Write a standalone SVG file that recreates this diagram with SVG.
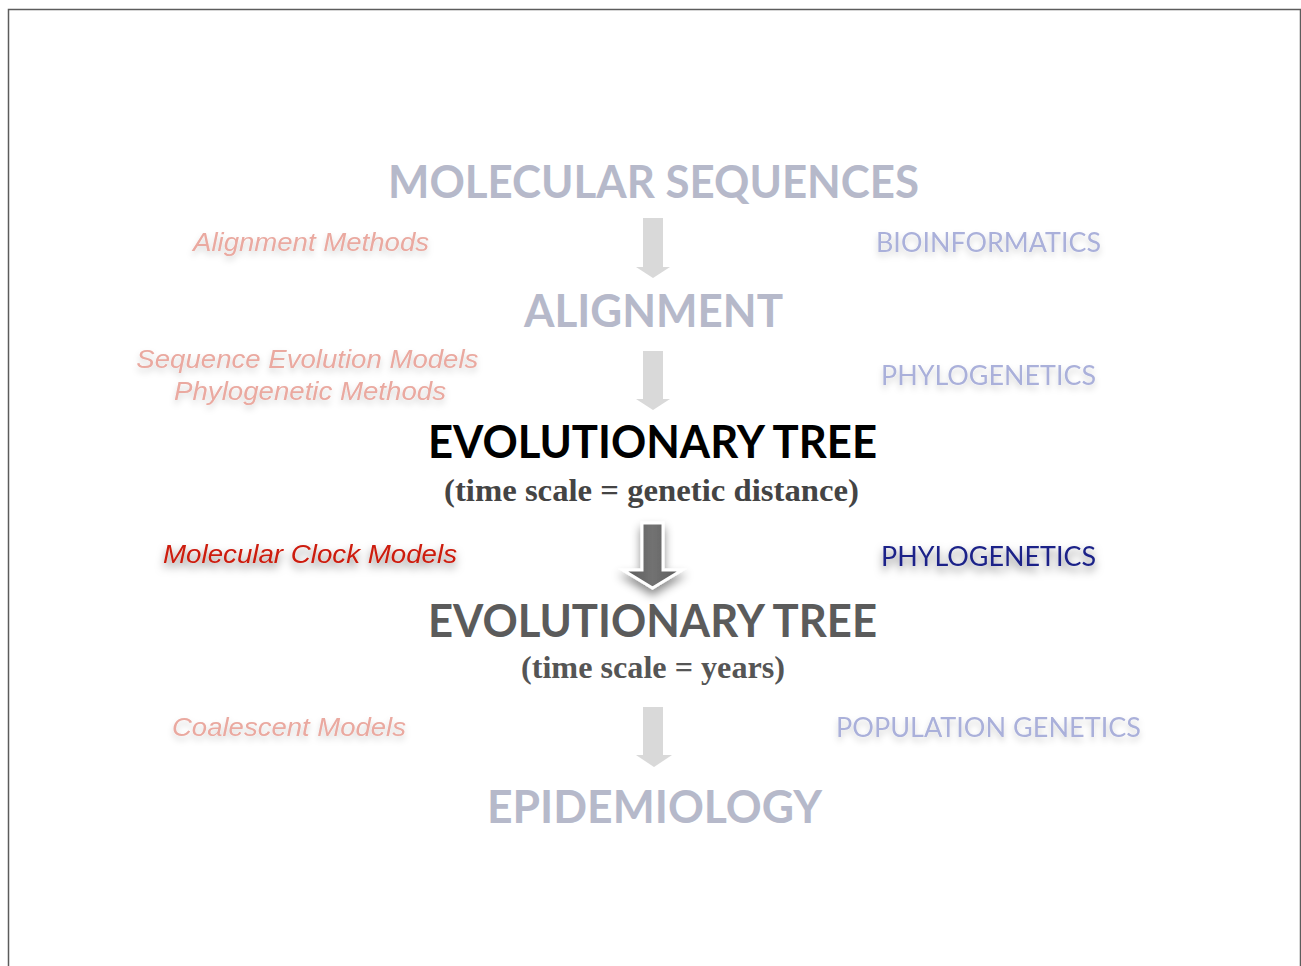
<svg xmlns="http://www.w3.org/2000/svg" width="1301" height="966" viewBox="0 0 1301 966">
<defs>
<style>
.h{font-family:Lato,"Open Sans","DejaVu Sans",sans-serif;font-weight:700;font-size:46px;text-anchor:middle}
.sub{font-family:"Liberation Serif","DejaVu Serif",serif;font-weight:700;font-size:31px;text-anchor:middle}
.l{font-family:"Liberation Sans",Arial,sans-serif;font-style:italic;font-size:26px;text-anchor:middle;fill:#eaa9a0}
.r{font-family:Lato,"Open Sans",sans-serif;font-size:26px;text-anchor:middle;fill:#aab0da}
.faint{fill:#b6b9ca}
.arr{fill:#d9d9d9}
</style>
<filter id="sh" x="-20%" y="-50%" width="140%" height="220%">
<feDropShadow dx="0" dy="4" stdDeviation="3" flood-color="#000" flood-opacity="0.18"/>
</filter>
<filter id="sh2" x="-20%" y="-50%" width="140%" height="220%">
<feDropShadow dx="0" dy="5" stdDeviation="4" flood-color="#000" flood-opacity="0.5"/>
</filter>
<filter id="ash" x="-60%" y="-30%" width="220%" height="170%">
<feDropShadow dx="0" dy="6" stdDeviation="5" flood-color="#000" flood-opacity="0.45"/>
</filter>
<linearGradient id="dg" x1="0" y1="0" x2="1" y2="0">
<stop offset="0" stop-color="#5a5a5a"/>
<stop offset="0.5" stop-color="#727272"/>
<stop offset="1" stop-color="#5a5a5a"/>
</linearGradient>
</defs>
<rect x="0" y="0" width="1301" height="966" fill="#fff"/>
<path d="M8.5 970 V9.5 H1300.5 V970" fill="none" stroke="#5c5c5c" stroke-width="1.5"/>

<g id="n-molecular-sequences"><text class="h faint" x="653.5" y="198" textLength="531" lengthAdjust="spacingAndGlyphs">MOLECULAR SEQUENCES</text></g>
<g id="n-alignment"><text class="h faint" x="653.5" y="327" textLength="259" lengthAdjust="spacingAndGlyphs">ALIGNMENT</text></g>
<g id="n-tree-genetic">
<text class="h" x="652.5" y="458" fill="#000" textLength="449" lengthAdjust="spacingAndGlyphs">EVOLUTIONARY TREE</text>
<text class="sub" x="651.5" y="501" fill="#444" textLength="415" lengthAdjust="spacingAndGlyphs">(time scale = genetic distance)</text>
</g>
<g id="n-tree-years">
<text class="h" x="652.5" y="637" fill="#5b5b5b" textLength="449" lengthAdjust="spacingAndGlyphs">EVOLUTIONARY TREE</text>
<text class="sub" x="653" y="678" fill="#555" textLength="264" lengthAdjust="spacingAndGlyphs">(time scale = years)</text>
</g>
<g id="n-epidemiology"><text class="h faint" x="654.5" y="823" textLength="335" lengthAdjust="spacingAndGlyphs">EPIDEMIOLOGY</text></g>

<g id="n-alignment-methods"><text class="l" x="311" y="251" filter="url(#sh)" textLength="236" lengthAdjust="spacingAndGlyphs">Alignment Methods</text></g>
<g id="n-seq-models"><text class="l" filter="url(#sh)">
<tspan x="311" y="368" textLength="342" lengthAdjust="spacingAndGlyphs">Sequence Evolution Models</tspan>
<tspan x="310" y="400" textLength="272" lengthAdjust="spacingAndGlyphs">Phylogenetic Methods</tspan>
</text></g>
<g id="n-clock-models"><text class="l" x="310" y="563" style="fill:#cc1a0a" filter="url(#sh2)" textLength="294" lengthAdjust="spacingAndGlyphs">Molecular Clock Models</text></g>
<g id="n-coalescent"><text class="l" x="289" y="736" filter="url(#sh)" textLength="234" lengthAdjust="spacingAndGlyphs">Coalescent Models</text></g>

<g id="n-bioinformatics"><text class="r" x="988.5" y="252" filter="url(#sh)" textLength="225" lengthAdjust="spacingAndGlyphs">BIOINFORMATICS</text></g>
<g id="n-phylo1"><text class="r" x="988.5" y="385" filter="url(#sh)" textLength="215" lengthAdjust="spacingAndGlyphs">PHYLOGENETICS</text></g>
<g id="n-phylo2"><text class="r" x="988.5" y="566" style="fill:#1c2488" filter="url(#sh2)" textLength="215" lengthAdjust="spacingAndGlyphs">PHYLOGENETICS</text></g>
<g id="n-popgen"><text class="r" x="988.5" y="737" filter="url(#sh)" textLength="305" lengthAdjust="spacingAndGlyphs">POPULATION GENETICS</text></g>

<g id="connectors">
<path class="arr" d="M643 218 H663 V267 H670 L653 278 L636 267 H643 Z"/>
<path class="arr" d="M643 351 H663 V399 H670 L653 410 L636 399 H643 Z"/>
<path d="M642 523 H663 V570 H682 L652.5 588 L623 570 H642 Z" fill="url(#dg)" stroke="#fff" stroke-width="3" stroke-linejoin="miter" filter="url(#ash)"/>
<path class="arr" d="M643 707 H663 V755 H672 L654 767 L636 755 H643 Z"/>
</g>
</svg>
